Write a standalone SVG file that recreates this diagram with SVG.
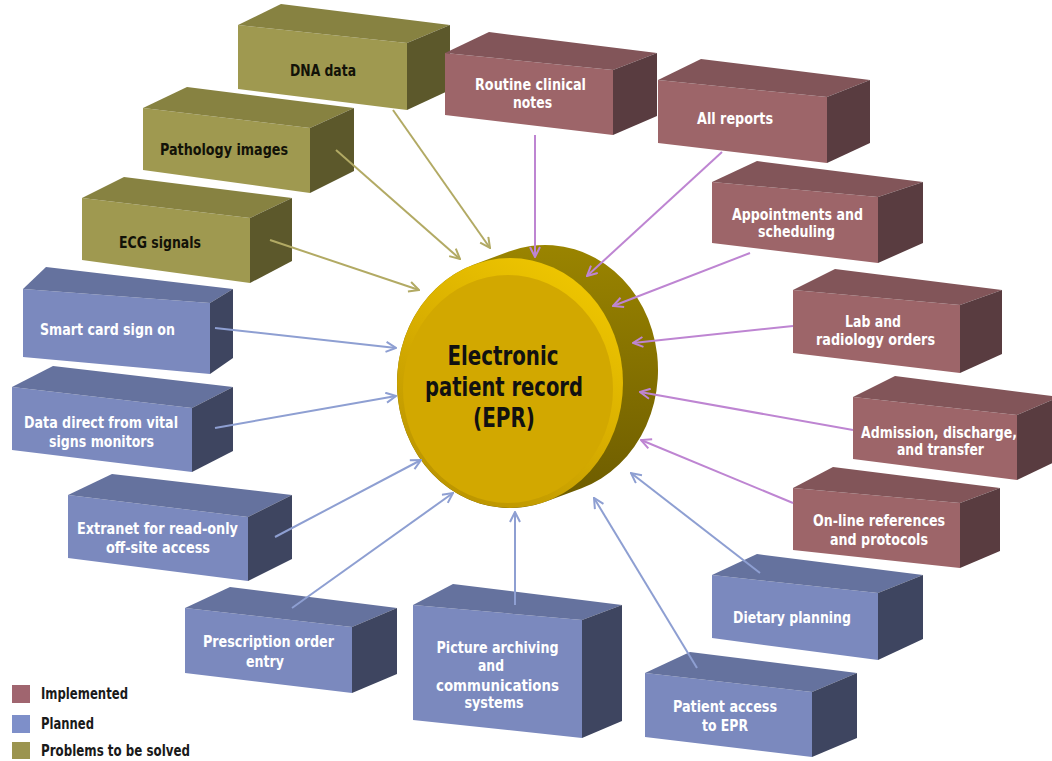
<svg xmlns="http://www.w3.org/2000/svg" width="1052" height="761" viewBox="0 0 1052 761">
<style>
.of{fill:#9F9950}.ot{fill:#878241}.or{fill:#5C582B}
.mf{fill:#9D6569}.mt{fill:#825559}.mr{fill:#593C40}
.bf{fill:#7B89BE}.bt{fill:#65729E}.br{fill:#3E4560}
.lbl{font-family:"Liberation Sans Narrow","DejaVu Sans Condensed","Liberation Sans",sans-serif;font-weight:bold;font-size:16.5px;text-anchor:middle}
.lw{fill:#FFFFFF}.lk{fill:#121208}
.epr{font-family:"Liberation Sans Narrow","DejaVu Sans Condensed","Liberation Sans",sans-serif;font-weight:bold;font-size:27px;text-anchor:middle;fill:#111}
.leg{font-family:"Liberation Sans Narrow","DejaVu Sans Condensed","Liberation Sans",sans-serif;font-weight:bold;font-size:15px;fill:#1a1a1a}
.ca{fill:none;stroke:#B2AA64;stroke-width:2}
.cm{fill:none;stroke:#BE85D2;stroke-width:2}
.cb{fill:none;stroke:#8E9FD2;stroke-width:2}
</style>
<defs>
<marker id="ao" viewBox="0 0 12 12" refX="11" refY="6" markerWidth="12" markerHeight="12" markerUnits="userSpaceOnUse" orient="auto"><path d="M1,1 L11,6 L1,11" fill="none" stroke="#B2AA64" stroke-width="2"/></marker>
<marker id="am" viewBox="0 0 12 12" refX="11" refY="6" markerWidth="12" markerHeight="12" markerUnits="userSpaceOnUse" orient="auto"><path d="M1,1 L11,6 L1,11" fill="none" stroke="#BE85D2" stroke-width="2"/></marker>
<marker id="ab" viewBox="0 0 12 12" refX="11" refY="6" markerWidth="12" markerHeight="12" markerUnits="userSpaceOnUse" orient="auto"><path d="M1,1 L11,6 L1,11" fill="none" stroke="#8E9FD2" stroke-width="2"/></marker>
<linearGradient id="side" x1="0" y1="0" x2="0" y2="1"><stop offset="0" stop-color="#9A8400"/><stop offset="1" stop-color="#6C5B00"/></linearGradient>
<linearGradient id="rim" x1="0.8" y1="0" x2="0.2" y2="1"><stop offset="0" stop-color="#F0C800"/><stop offset="0.5" stop-color="#D8AE00"/><stop offset="1" stop-color="#B89200"/></linearGradient>
</defs>
<rect x="0" y="0" width="1052" height="761" fill="#FFFFFF"/>

<g id="node-dna"><polygon class="of" points="238,25 407,43 407,110 238,89"/><polygon class="ot" points="238,25 281,4 450,25 407,43"/><polygon class="or" points="407,43 450,25 450,90 407,110"/><text class="lbl lk" x="323" y="76" textLength="66" lengthAdjust="spacingAndGlyphs">DNA data</text></g>
<g id="node-routine"><polygon class="mf" points="445,53 613,70 613,135 445,115"/><polygon class="mt" points="445,53 489,32 657,53 613,70"/><polygon class="mr" points="613,70 657,53 657,116 613,135"/><text class="lbl lw" x="530.5" y="90" textLength="111" lengthAdjust="spacingAndGlyphs">Routine clinical</text><text class="lbl lw" x="532.5" y="108" textLength="39" lengthAdjust="spacingAndGlyphs">notes</text></g>
<g id="node-reports"><polygon class="mf" points="658,80 827,97 827,163 658,143"/><polygon class="mt" points="658,80 701,59 870,80 827,97"/><polygon class="mr" points="827,97 870,80 870,143 827,163"/><text class="lbl lw" x="735" y="124" textLength="76" lengthAdjust="spacingAndGlyphs">All reports</text></g>
<g id="node-pathology"><polygon class="of" points="143,108 310,128 310,193 143,170"/><polygon class="ot" points="143,108 187,87 354,108 310,128"/><polygon class="or" points="310,128 354,108 354,171 310,193"/><text class="lbl lk" x="224" y="155" textLength="128" lengthAdjust="spacingAndGlyphs">Pathology images</text></g>
<g id="node-ecg"><polygon class="of" points="82,198 250,218 250,283 82,260"/><polygon class="ot" points="82,198 124,177 292,198 250,218"/><polygon class="or" points="250,218 292,198 292,261 250,283"/><text class="lbl lk" x="160" y="248" textLength="82" lengthAdjust="spacingAndGlyphs">ECG signals</text></g>
<g id="node-appointments"><polygon class="mf" points="712,182 878,197 878,263 712,243"/><polygon class="mt" points="712,182 757,161 923,182 878,197"/><polygon class="mr" points="878,197 923,182 923,243 878,263"/><text class="lbl lw" x="797.5" y="220" textLength="131" lengthAdjust="spacingAndGlyphs">Appointments and</text><text class="lbl lw" x="796.5" y="237" textLength="77" lengthAdjust="spacingAndGlyphs">scheduling</text></g>
<g id="node-smartcard"><polygon class="bf" points="23,289 210,303 210,374 23,357"/><polygon class="bt" points="23,289 46,267 233,289 210,303"/><polygon class="br" points="210,303 233,289 233,358 210,374"/><text class="lbl lw" x="107.5" y="335" textLength="135" lengthAdjust="spacingAndGlyphs">Smart card sign on</text></g>
<g id="node-lab"><polygon class="mf" points="793,290 960,305 960,373 793,353"/><polygon class="mt" points="793,290 835,269 1002,290 960,305"/><polygon class="mr" points="960,305 1002,290 1002,354 960,373"/><text class="lbl lw" x="873" y="327" textLength="56" lengthAdjust="spacingAndGlyphs">Lab and</text><text class="lbl lw" x="875.5" y="345" textLength="119" lengthAdjust="spacingAndGlyphs">radiology orders</text></g>
<g id="node-vitals"><polygon class="bf" points="12,387 192,408 192,472 12,450"/><polygon class="bt" points="12,387 53,366 233,387 192,408"/><polygon class="br" points="192,408 233,387 233,451 192,472"/><text class="lbl lw" x="101" y="428" textLength="154" lengthAdjust="spacingAndGlyphs">Data direct from vital</text><text class="lbl lw" x="101.5" y="447" textLength="105" lengthAdjust="spacingAndGlyphs">signs monitors</text></g>
<g id="node-admission"><polygon class="mf" points="853,397 1017,415 1017,480 853,459"/><polygon class="mt" points="853,397 895,376 1059,397 1017,415"/><polygon class="mr" points="1017,415 1059,397 1059,460 1017,480"/><text class="lbl lw" x="939" y="438" textLength="156" lengthAdjust="spacingAndGlyphs">Admission, discharge,</text><text class="lbl lw" x="940.5" y="455" textLength="87" lengthAdjust="spacingAndGlyphs">and transfer</text></g>
<g id="node-online"><polygon class="mf" points="793,488 960,503 960,568 793,550"/><polygon class="mt" points="793,488 833,467 1000,488 960,503"/><polygon class="mr" points="960,503 1000,488 1000,551 960,568"/><text class="lbl lw" x="879" y="526" textLength="132" lengthAdjust="spacingAndGlyphs">On-line references</text><text class="lbl lw" x="879" y="545" textLength="98" lengthAdjust="spacingAndGlyphs">and protocols</text></g>
<g id="node-extranet"><polygon class="bf" points="68,495 248,517 248,581 68,558"/><polygon class="bt" points="68,495 112,474 292,495 248,517"/><polygon class="br" points="248,517 292,495 292,559 248,581"/><text class="lbl lw" x="157.5" y="534" textLength="161" lengthAdjust="spacingAndGlyphs">Extranet for read-only</text><text class="lbl lw" x="158" y="553" textLength="104" lengthAdjust="spacingAndGlyphs">off-site access</text></g>
<g id="node-dietary"><polygon class="bf" points="712,575 878,593 878,660 712,638"/><polygon class="bt" points="712,575 757,554 923,575 878,593"/><polygon class="br" points="878,593 923,575 923,639 878,660"/><text class="lbl lw" x="792" y="623" textLength="118" lengthAdjust="spacingAndGlyphs">Dietary planning</text></g>
<g id="node-prescription"><polygon class="bf" points="185,608 352,627 352,693 185,673"/><polygon class="bt" points="185,608 230,587 397,608 352,627"/><polygon class="br" points="352,627 397,608 397,674 352,693"/><text class="lbl lw" x="268.5" y="647" textLength="131" lengthAdjust="spacingAndGlyphs">Prescription order</text><text class="lbl lw" x="265" y="667" textLength="38" lengthAdjust="spacingAndGlyphs">entry</text></g>
<g id="node-pacs"><polygon class="bf" points="413,605 582,620 582,738 413,720"/><polygon class="bt" points="413,605 453,584 622,605 582,620"/><polygon class="br" points="582,620 622,605 622,721 582,738"/><text class="lbl lw" x="497.5" y="653" textLength="122" lengthAdjust="spacingAndGlyphs">Picture archiving</text><text class="lbl lw" x="491" y="671" textLength="26" lengthAdjust="spacingAndGlyphs">and</text><text class="lbl lw" x="497.5" y="691" textLength="123" lengthAdjust="spacingAndGlyphs">communications</text><text class="lbl lw" x="494" y="708" textLength="59" lengthAdjust="spacingAndGlyphs">systems</text></g>
<g id="node-patient"><polygon class="bf" points="645,673 812,692 812,757 645,737"/><polygon class="bt" points="645,673 690,652 857,673 812,692"/><polygon class="br" points="812,692 857,673 857,738 812,757"/><text class="lbl lw" x="725" y="712" textLength="104" lengthAdjust="spacingAndGlyphs">Patient access</text><text class="lbl lw" x="725" y="731" textLength="46" lengthAdjust="spacingAndGlyphs">to EPR</text></g>

<g id="node-epr">
<path d="M474,264.5 L509,251.5 A113,125 0 0 1 581,488.5 L546,501.5 A113,125 0 0 1 474,264.5 Z" fill="url(#side)"/>
<ellipse cx="510" cy="383" rx="113" ry="125" fill="url(#rim)"/>
<ellipse cx="508" cy="389" rx="105" ry="114" fill="#D2A800"/>
<text class="epr" x="503" y="365" textLength="111" lengthAdjust="spacingAndGlyphs">Electronic</text>
<text class="epr" x="504" y="396" textLength="158" lengthAdjust="spacingAndGlyphs">patient record</text>
<text class="epr" x="504" y="427" textLength="62" lengthAdjust="spacingAndGlyphs">(EPR)</text>
</g>

<g id="connectors">
<line class="ca" x1="393" y1="110" x2="490" y2="248" marker-end="url(#ao)"/>
<line class="ca" x1="336" y1="150" x2="460" y2="259" marker-end="url(#ao)"/>
<line class="ca" x1="270" y1="240" x2="419" y2="290" marker-end="url(#ao)"/>
<line class="cm" x1="535" y1="135" x2="535" y2="257" marker-end="url(#am)"/>
<line class="cm" x1="722" y1="152" x2="587" y2="276" marker-end="url(#am)"/>
<line class="cm" x1="750" y1="253" x2="613" y2="306" marker-end="url(#am)"/>
<line class="cm" x1="793" y1="326" x2="633" y2="343" marker-end="url(#am)"/>
<line class="cm" x1="853" y1="430" x2="640" y2="392" marker-end="url(#am)"/>
<line class="cm" x1="793" y1="503" x2="641" y2="440" marker-end="url(#am)"/>
<line class="cb" x1="215" y1="328" x2="396" y2="348" marker-end="url(#ab)"/>
<line class="cb" x1="215" y1="428" x2="396" y2="396" marker-end="url(#ab)"/>
<line class="cb" x1="275" y1="537" x2="421" y2="460" marker-end="url(#ab)"/>
<line class="cb" x1="292" y1="608" x2="453" y2="493" marker-end="url(#ab)"/>
<line class="cb" x1="515" y1="605" x2="515" y2="512" marker-end="url(#ab)"/>
<line class="cb" x1="697" y1="668" x2="594" y2="498" marker-end="url(#ab)"/>
<line class="cb" x1="760" y1="573" x2="631" y2="473" marker-end="url(#ab)"/>
</g>

<g id="legend">
<rect x="12" y="685" width="18" height="18" fill="#A0656F"/>
<text class="leg" x="41" y="699" textLength="87" lengthAdjust="spacingAndGlyphs">Implemented</text>
<rect x="12" y="715" width="18" height="18" fill="#7E8FC9"/>
<text class="leg" x="41" y="729" textLength="53" lengthAdjust="spacingAndGlyphs">Planned</text>
<rect x="12" y="742" width="18" height="17" fill="#9B944F"/>
<text class="leg" x="41" y="756" textLength="149" lengthAdjust="spacingAndGlyphs">Problems to be solved</text>
</g>
</svg>
